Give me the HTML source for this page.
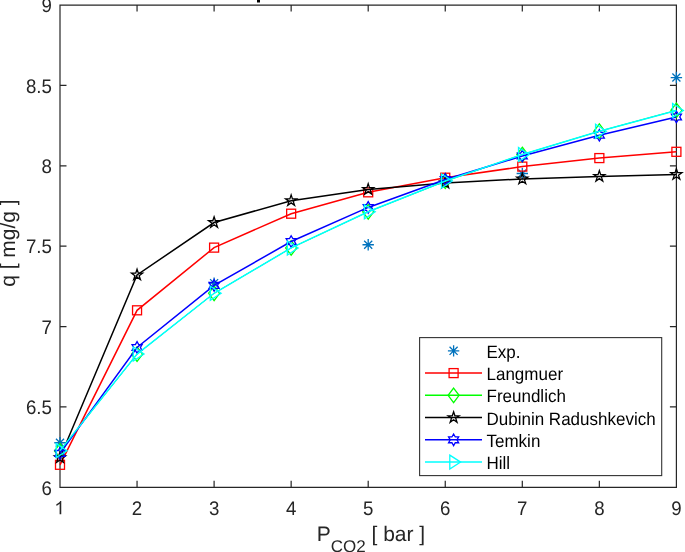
<!DOCTYPE html>
<html><head><meta charset="utf-8"><style>html,body{margin:0;padding:0;background:#fff;width:685px;height:552px;overflow:hidden}svg{display:block;will-change:transform}</style></head>
<body><svg width="685" height="552" viewBox="0 0 685 552">
<style>text{text-rendering:geometricPrecision}.t{font-family:"Liberation Sans",sans-serif;font-size:18.67px;fill:#262626}.l{font-family:"Liberation Sans",sans-serif;font-size:17px;fill:#000}</style>
<rect x="0" y="0" width="685" height="552" fill="#fff"/>
<rect x="257" y="0" width="3" height="2.5" fill="#000"/>
<path d="M60.0,5.05H676.4V487.3H60.0Z" stroke="#262626" stroke-width="1.2" fill="none"/>
<path d="M137.05,487.30V480.80M137.05,5.05V11.55M214.10,487.30V480.80M214.10,5.05V11.55M291.15,487.30V480.80M291.15,5.05V11.55M368.20,487.30V480.80M368.20,5.05V11.55M445.25,487.30V480.80M445.25,5.05V11.55M522.30,487.30V480.80M522.30,5.05V11.55M599.35,487.30V480.80M599.35,5.05V11.55M60.00,406.93H66.50M676.40,406.93H669.90M60.00,326.55H66.50M676.40,326.55H669.90M60.00,246.18H66.50M676.40,246.18H669.90M60.00,165.80H66.50M676.40,165.80H669.90M60.00,85.43H66.50M676.40,85.43H669.90" stroke="#262626" stroke-width="1.2" fill="none"/>
<path d="M763 0L583 0L583 1147Q518 1085 412.5 1023Q307 961 223 930L223 1104Q374 1175 487 1276Q600 1377 647 1472L763 1472Z" fill="#262626" transform="translate(54.31,514.3) scale(0.009116,-0.009116)"/>
<text transform="translate(137.05,514.7) scale(1,1.05)" text-anchor="middle" class="t">2</text>
<text transform="translate(214.10,514.7) scale(1,1.05)" text-anchor="middle" class="t">3</text>
<text transform="translate(291.15,514.7) scale(1,1.05)" text-anchor="middle" class="t">4</text>
<text transform="translate(368.20,514.7) scale(1,1.05)" text-anchor="middle" class="t">5</text>
<text transform="translate(445.25,514.7) scale(1,1.05)" text-anchor="middle" class="t">6</text>
<text transform="translate(522.30,514.7) scale(1,1.05)" text-anchor="middle" class="t">7</text>
<text transform="translate(599.35,514.7) scale(1,1.05)" text-anchor="middle" class="t">8</text>
<text transform="translate(676.40,514.7) scale(1,1.05)" text-anchor="middle" class="t">9</text>
<text transform="translate(51.90,494.60) scale(1,1.05)" text-anchor="end" class="t">6</text>
<text transform="translate(51.90,414.23) scale(1,1.05)" text-anchor="end" class="t">6.5</text>
<text transform="translate(51.90,333.85) scale(1,1.05)" text-anchor="end" class="t">7</text>
<text transform="translate(51.90,253.48) scale(1,1.05)" text-anchor="end" class="t">7.5</text>
<text transform="translate(51.90,173.10) scale(1,1.05)" text-anchor="end" class="t">8</text>
<text transform="translate(51.90,92.73) scale(1,1.05)" text-anchor="end" class="t">8.5</text>
<text transform="translate(51.90,12.35) scale(1,1.05)" text-anchor="end" class="t">9</text>
<text x="316.7" y="540.8" class="t" style="font-size:21px">P<tspan y="552" style="font-size:17px">CO2</tspan><tspan y="540.8"> [ bar ]</tspan></text>
<text transform="translate(15.3,243.1) rotate(-90)" text-anchor="middle" class="t" style="font-size:21px">q [ mg/g ]</text>
<path d="M54.30,442.77H65.70M60.00,437.07V448.47M55.97,438.74L64.03,446.80M55.97,446.80L64.03,438.74" stroke="#0072BD" stroke-width="1.3" fill="none"/>
<path d="M208.40,283.15H219.80M214.10,277.45V288.85M210.07,279.12L218.13,287.18M210.07,287.18L218.13,279.12" stroke="#0072BD" stroke-width="1.3" fill="none"/>
<path d="M362.50,244.73H373.90M368.20,239.03V250.43M364.17,240.70L372.23,248.76M364.17,248.76L372.23,240.70" stroke="#0072BD" stroke-width="1.3" fill="none"/>
<path d="M516.60,173.52H528.00M522.30,167.82V179.22M518.27,169.49L526.33,177.55M518.27,177.55L526.33,169.49" stroke="#0072BD" stroke-width="1.3" fill="none"/>
<path d="M670.70,77.55H682.10M676.40,71.85V83.25M672.37,73.52L680.43,81.58M672.37,81.58L680.43,73.52" stroke="#0072BD" stroke-width="1.3" fill="none"/>
<polyline points="60.00,464.80 137.05,310.31 214.10,247.62 291.15,213.70 368.20,192.32 445.25,177.70 522.30,166.60 599.35,158.08 676.40,151.81" stroke="#FF0000" stroke-width="1.5" fill="none"/>
<rect x="55.50" y="460.30" width="9.00" height="9.00" stroke="#FF0000" stroke-width="1.3" fill="none"/>
<rect x="132.55" y="305.81" width="9.00" height="9.00" stroke="#FF0000" stroke-width="1.3" fill="none"/>
<rect x="209.60" y="243.12" width="9.00" height="9.00" stroke="#FF0000" stroke-width="1.3" fill="none"/>
<rect x="286.65" y="209.20" width="9.00" height="9.00" stroke="#FF0000" stroke-width="1.3" fill="none"/>
<rect x="363.70" y="187.82" width="9.00" height="9.00" stroke="#FF0000" stroke-width="1.3" fill="none"/>
<rect x="440.75" y="173.20" width="9.00" height="9.00" stroke="#FF0000" stroke-width="1.3" fill="none"/>
<rect x="517.80" y="162.10" width="9.00" height="9.00" stroke="#FF0000" stroke-width="1.3" fill="none"/>
<rect x="594.85" y="153.58" width="9.00" height="9.00" stroke="#FF0000" stroke-width="1.3" fill="none"/>
<rect x="671.90" y="147.31" width="9.00" height="9.00" stroke="#FF0000" stroke-width="1.3" fill="none"/>
<polyline points="60.00,450.97 137.05,354.20 214.10,293.27 291.15,247.94 368.20,211.77 445.25,181.23 522.30,154.55 599.35,131.24 676.40,110.34" stroke="#00FF00" stroke-width="1.0" fill="none"/>
<path d="M60.00,443.67L65.50,450.97L60.00,458.27L54.50,450.97Z" stroke="#00FF00" stroke-width="1.3" fill="none"/>
<path d="M137.05,346.90L142.55,354.20L137.05,361.50L131.55,354.20Z" stroke="#00FF00" stroke-width="1.3" fill="none"/>
<path d="M214.10,285.97L219.60,293.27L214.10,300.57L208.60,293.27Z" stroke="#00FF00" stroke-width="1.3" fill="none"/>
<path d="M291.15,240.64L296.65,247.94L291.15,255.24L285.65,247.94Z" stroke="#00FF00" stroke-width="1.3" fill="none"/>
<path d="M368.20,204.47L373.70,211.77L368.20,219.07L362.70,211.77Z" stroke="#00FF00" stroke-width="1.3" fill="none"/>
<path d="M445.25,173.93L450.75,181.23L445.25,188.53L439.75,181.23Z" stroke="#00FF00" stroke-width="1.3" fill="none"/>
<path d="M522.30,147.25L527.80,154.55L522.30,161.85L516.80,154.55Z" stroke="#00FF00" stroke-width="1.3" fill="none"/>
<path d="M599.35,123.94L604.85,131.24L599.35,138.54L593.85,131.24Z" stroke="#00FF00" stroke-width="1.3" fill="none"/>
<path d="M676.40,103.04L681.90,110.34L676.40,117.64L670.90,110.34Z" stroke="#00FF00" stroke-width="1.3" fill="none"/>
<polyline points="60.00,457.72 137.05,274.95 214.10,222.54 291.15,200.68 368.20,189.43 445.25,183.00 522.30,178.98 599.35,176.41 676.40,174.48" stroke="#000000" stroke-width="1.5" fill="none"/>
<polygon points="60.00,451.92 61.30,455.93 65.52,455.93 62.11,458.41 63.41,462.41 60.00,459.94 56.59,462.41 57.89,458.41 54.48,455.93 58.70,455.93" stroke="#000000" stroke-width="1.3" fill="none" stroke-linejoin="miter"/>
<polygon points="137.05,269.15 138.35,273.16 142.57,273.16 139.16,275.63 140.46,279.64 137.05,277.16 133.64,279.64 134.94,275.63 131.53,273.16 135.75,273.16" stroke="#000000" stroke-width="1.3" fill="none" stroke-linejoin="miter"/>
<polygon points="214.10,216.74 215.40,220.75 219.62,220.75 216.21,223.23 217.51,227.24 214.10,224.76 210.69,227.24 211.99,223.23 208.58,220.75 212.80,220.75" stroke="#000000" stroke-width="1.3" fill="none" stroke-linejoin="miter"/>
<polygon points="291.15,194.88 292.45,198.89 296.67,198.89 293.26,201.37 294.56,205.38 291.15,202.90 287.74,205.38 289.04,201.37 285.63,198.89 289.85,198.89" stroke="#000000" stroke-width="1.3" fill="none" stroke-linejoin="miter"/>
<polygon points="368.20,183.63 369.50,187.64 373.72,187.64 370.31,190.11 371.61,194.12 368.20,191.65 364.79,194.12 366.09,190.11 362.68,187.64 366.90,187.64" stroke="#000000" stroke-width="1.3" fill="none" stroke-linejoin="miter"/>
<polygon points="445.25,177.20 446.55,181.21 450.77,181.21 447.36,183.68 448.66,187.69 445.25,185.22 441.84,187.69 443.14,183.68 439.73,181.21 443.95,181.21" stroke="#000000" stroke-width="1.3" fill="none" stroke-linejoin="miter"/>
<polygon points="522.30,173.18 523.60,177.19 527.82,177.19 524.41,179.67 525.71,183.67 522.30,181.20 518.89,183.67 520.19,179.67 516.78,177.19 521.00,177.19" stroke="#000000" stroke-width="1.3" fill="none" stroke-linejoin="miter"/>
<polygon points="599.35,170.61 600.65,174.62 604.87,174.62 601.46,177.09 602.76,181.10 599.35,178.63 595.94,181.10 597.24,177.09 593.83,174.62 598.05,174.62" stroke="#000000" stroke-width="1.3" fill="none" stroke-linejoin="miter"/>
<polygon points="676.40,168.68 677.70,172.69 681.92,172.69 678.51,175.17 679.81,179.17 676.40,176.70 672.99,179.17 674.29,175.17 670.88,172.69 675.10,172.69" stroke="#000000" stroke-width="1.3" fill="none" stroke-linejoin="miter"/>
<polyline points="60.00,453.38 137.05,347.45 214.10,285.40 291.15,241.51 368.20,207.43 445.25,179.46 522.30,155.99 599.35,135.26 676.40,116.93" stroke="#0000FF" stroke-width="1.5" fill="none"/>
<polygon points="60.00,447.58 61.67,450.48 65.02,450.48 63.35,453.38 65.02,456.28 61.67,456.28 60.00,459.18 58.33,456.28 54.98,456.28 56.65,453.38 54.98,450.48 58.33,450.48" stroke="#0000FF" stroke-width="1.3" fill="none" stroke-linejoin="miter"/>
<polygon points="137.05,341.65 138.72,344.55 142.07,344.55 140.40,347.45 142.07,350.35 138.72,350.35 137.05,353.25 135.38,350.35 132.03,350.35 133.70,347.45 132.03,344.55 135.38,344.55" stroke="#0000FF" stroke-width="1.3" fill="none" stroke-linejoin="miter"/>
<polygon points="214.10,279.60 215.77,282.50 219.12,282.50 217.45,285.40 219.12,288.30 215.77,288.30 214.10,291.20 212.43,288.30 209.08,288.30 210.75,285.40 209.08,282.50 212.43,282.50" stroke="#0000FF" stroke-width="1.3" fill="none" stroke-linejoin="miter"/>
<polygon points="291.15,235.71 292.82,238.62 296.17,238.61 294.50,241.51 296.17,244.41 292.82,244.41 291.15,247.31 289.48,244.41 286.13,244.41 287.80,241.51 286.13,238.61 289.48,238.62" stroke="#0000FF" stroke-width="1.3" fill="none" stroke-linejoin="miter"/>
<polygon points="368.20,201.63 369.87,204.54 373.22,204.53 371.55,207.43 373.22,210.33 369.87,210.33 368.20,213.23 366.53,210.33 363.18,210.33 364.85,207.43 363.18,204.53 366.53,204.54" stroke="#0000FF" stroke-width="1.3" fill="none" stroke-linejoin="miter"/>
<polygon points="445.25,173.66 446.92,176.57 450.27,176.56 448.60,179.46 450.27,182.36 446.92,182.36 445.25,185.26 443.58,182.36 440.23,182.36 441.90,179.46 440.23,176.56 443.58,176.57" stroke="#0000FF" stroke-width="1.3" fill="none" stroke-linejoin="miter"/>
<polygon points="522.30,150.19 523.97,153.10 527.32,153.09 525.65,155.99 527.32,158.89 523.97,158.89 522.30,161.79 520.63,158.89 517.28,158.89 518.95,155.99 517.28,153.09 520.63,153.10" stroke="#0000FF" stroke-width="1.3" fill="none" stroke-linejoin="miter"/>
<polygon points="599.35,129.46 601.02,132.36 604.37,132.36 602.70,135.26 604.37,138.16 601.02,138.16 599.35,141.06 597.68,138.16 594.33,138.16 596.00,135.26 594.33,132.36 597.68,132.36" stroke="#0000FF" stroke-width="1.3" fill="none" stroke-linejoin="miter"/>
<polygon points="676.40,111.13 678.07,114.03 681.42,114.03 679.75,116.93 681.42,119.83 678.07,119.83 676.40,122.73 674.73,119.83 671.38,119.83 673.05,116.93 671.38,114.03 674.73,114.03" stroke="#0000FF" stroke-width="1.3" fill="none" stroke-linejoin="miter"/>
<polyline points="60.00,450.65 137.05,354.04 214.10,293.27 291.15,247.94 368.20,211.77 445.25,181.07 522.30,154.55 599.35,131.24 676.40,110.50" stroke="#00FFFF" stroke-width="1.5" fill="none"/>
<path d="M56.20,443.65L67.00,450.65L56.20,457.65Z" stroke="#00FFFF" stroke-width="1.3" fill="none"/>
<path d="M133.25,347.04L144.05,354.04L133.25,361.04Z" stroke="#00FFFF" stroke-width="1.3" fill="none"/>
<path d="M210.30,286.27L221.10,293.27L210.30,300.27Z" stroke="#00FFFF" stroke-width="1.3" fill="none"/>
<path d="M287.35,240.94L298.15,247.94L287.35,254.94Z" stroke="#00FFFF" stroke-width="1.3" fill="none"/>
<path d="M364.40,204.77L375.20,211.77L364.40,218.77Z" stroke="#00FFFF" stroke-width="1.3" fill="none"/>
<path d="M441.45,174.07L452.25,181.07L441.45,188.07Z" stroke="#00FFFF" stroke-width="1.3" fill="none"/>
<path d="M518.50,147.55L529.30,154.55L518.50,161.55Z" stroke="#00FFFF" stroke-width="1.3" fill="none"/>
<path d="M595.55,124.24L606.35,131.24L595.55,138.24Z" stroke="#00FFFF" stroke-width="1.3" fill="none"/>
<path d="M672.60,103.50L683.40,110.50L672.60,117.50Z" stroke="#00FFFF" stroke-width="1.3" fill="none"/>
<rect x="419.6" y="337.6" width="242.10000000000002" height="138.0" fill="#fff" stroke="#333" stroke-width="1.1"/>
<path d="M447.90,350.85H459.30M453.60,345.15V356.55M449.57,346.82L457.63,354.88M449.57,354.88L457.63,346.82" stroke="#0072BD" stroke-width="1.3" fill="none"/>
<text transform="translate(486.5,357.95) scale(1,1.05)" class="l">Exp.</text>
<path d="M425,373.10H482" stroke="#FF0000" stroke-width="1.5"/>
<rect x="449.10" y="368.60" width="9.00" height="9.00" stroke="#FF0000" stroke-width="1.3" fill="none"/>
<text transform="translate(486.5,380.20) scale(1,1.05)" class="l">Langmuer</text>
<path d="M425,395.35H482" stroke="#00FF00" stroke-width="1.5"/>
<path d="M453.60,388.05L459.10,395.35L453.60,402.65L448.10,395.35Z" stroke="#00FF00" stroke-width="1.3" fill="none"/>
<text transform="translate(486.5,402.45) scale(1,1.05)" class="l">Freundlich</text>
<path d="M425,417.60H482" stroke="#000000" stroke-width="1.5"/>
<polygon points="453.60,411.80 454.90,415.81 459.12,415.81 455.71,418.28 457.01,422.29 453.60,419.82 450.19,422.29 451.49,418.28 448.08,415.81 452.30,415.81" stroke="#000000" stroke-width="1.3" fill="none" stroke-linejoin="miter"/>
<text transform="translate(486.5,424.70) scale(1,1.05)" class="l">Dubinin Radushkevich</text>
<path d="M425,439.85H482" stroke="#0000FF" stroke-width="1.5"/>
<polygon points="453.60,434.05 455.27,436.95 458.62,436.95 456.95,439.85 458.62,442.75 455.27,442.75 453.60,445.65 451.93,442.75 448.58,442.75 450.25,439.85 448.58,436.95 451.93,436.95" stroke="#0000FF" stroke-width="1.3" fill="none" stroke-linejoin="miter"/>
<text transform="translate(486.5,446.95) scale(1,1.05)" class="l">Temkin</text>
<path d="M425,462.10H482" stroke="#00FFFF" stroke-width="1.5"/>
<path d="M449.80,455.10L460.60,462.10L449.80,469.10Z" stroke="#00FFFF" stroke-width="1.3" fill="none"/>
<text transform="translate(486.5,469.20) scale(1,1.05)" class="l">Hill</text>
</svg></body></html>
